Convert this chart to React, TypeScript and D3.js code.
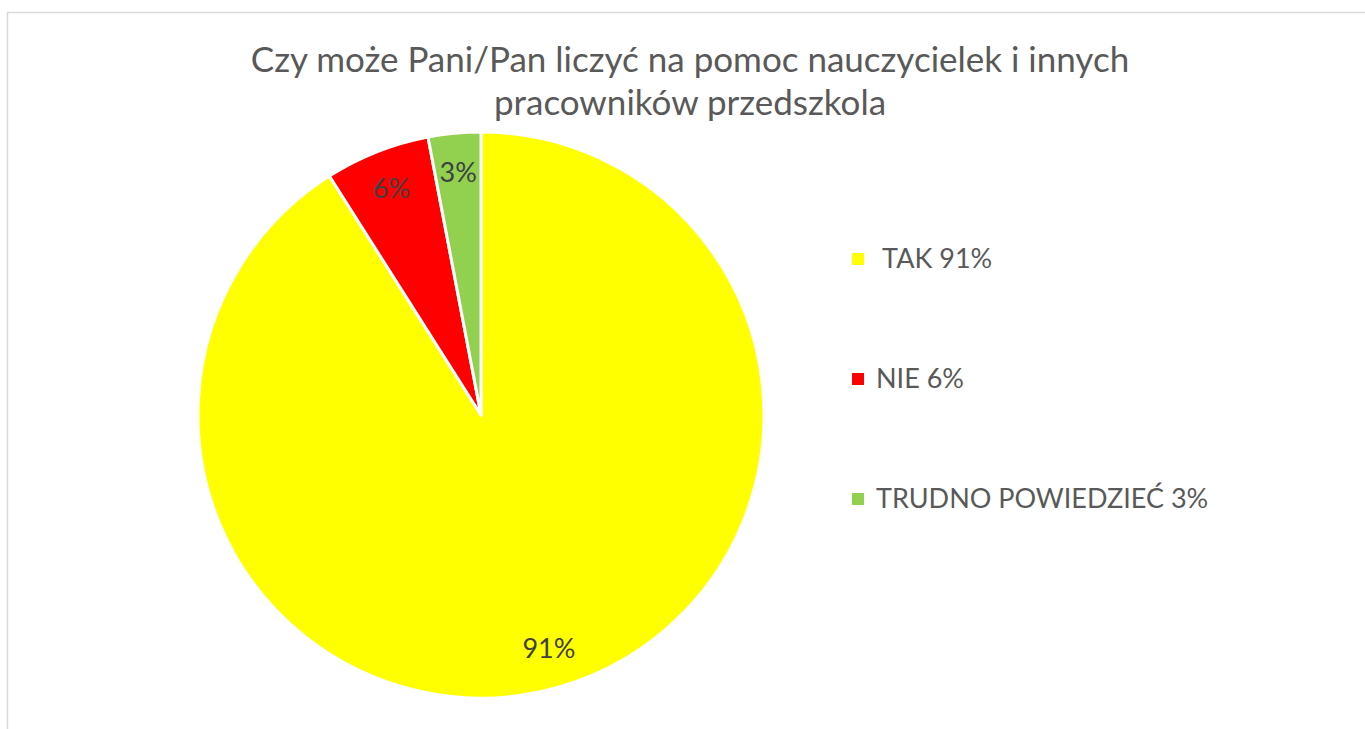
import React from "react";
import * as d3 from "d3";

const categories = ["TAK", "NIE", "TRUDNO POWIEDZIEĆ"];
const values = [91, 6, 3];
const legendLabels = [" TAK 91%", "NIE 6%", "TRUDNO POWIEDZIEĆ 3%"];
const colors = ["#FFFF00", "#FF0000", "#92D050"];
const titleLines = ["Czy może Pani/Pan liczyć na pomoc nauczycielek i innych", "pracowników przedszkola"];

const W = 1365;
const H = 729;
const FONT = "Lato, Carlito, Calibri, sans-serif";
const TEXT = "#595959";

export default function App() {
  const cx = 481;
  const cy = 415;
  const r = 283;
  const pie = d3.pie<number>().sort(null).value((d) => d);
  const arcs = pie(values);
  const arc = d3.arc<d3.PieArcDatum<number>>().innerRadius(0).outerRadius(r);
  const labelArc = d3.arc<d3.PieArcDatum<number>>().innerRadius(r * 0.86).outerRadius(r * 0.86);
  const legendY = d3.scalePoint<string>().domain(categories).range([259, 499]);

  return (
    <svg width={W} height={H} style={{ position: "absolute", left: 0, top: 0, background: "#fff" }}>
      <rect x={7.5} y={12.5} width={W + 10} height={H + 10} fill="#fff" stroke="#d9d9d9" strokeWidth={1.5} />
      <g fontFamily={FONT} fill={TEXT} fontSize={35} textAnchor="middle">
        {titleLines.map((t, i) => (
          <text key={i} x={690} y={72 + i * 43}>{t}</text>
        ))}
      </g>
      <g transform={`translate(${cx},${cy})`}>
        {arcs.map((a, i) => (
          <path key={i} d={arc(a) || ""} fill={colors[i]} stroke="#fff" strokeWidth={3} strokeLinejoin="round" />
        ))}
        {arcs.map((a, i) => {
          const [lx, ly] = labelArc.centroid(a);
          return (
            <text key={"l" + i} x={lx} y={ly} dy="0.35em" textAnchor="middle" fontFamily={FONT} fontSize={27} fill="#404040">
              {values[i]}%
            </text>
          );
        })}
      </g>
      <g fontFamily={FONT} fontSize={27} fill={TEXT}>
        {categories.map((c, i) => {
          const y = legendY(c) as number;
          return (
            <g key={c}>
              <rect x={852} y={y - 6} width={12} height={12} fill={colors[i]} />
              <text x={876} y={y} dy="0.35em" style={{ whiteSpace: "pre" }}>{legendLabels[i]}</text>
            </g>
          );
        })}
      </g>
    </svg>
  );
}
